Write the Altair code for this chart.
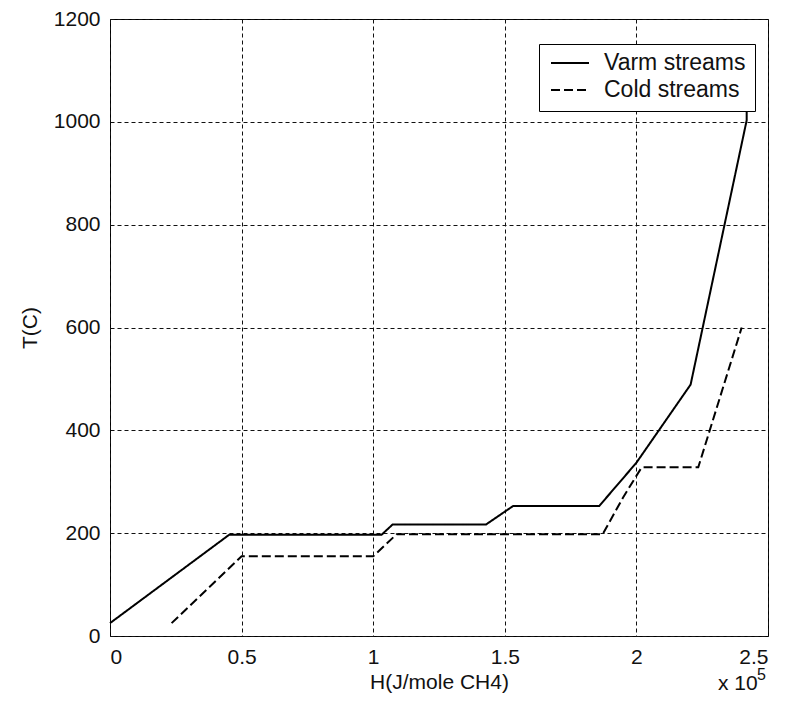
import altair as alt
import pandas as pd

# Composite curves (H in units of 1e5 J/mole CH4, T in C)
warm_H = [0.0, 0.453, 1.032, 1.074, 1.429, 1.532, 1.859, 2.0, 2.206, 2.419, 2.419]
warm_T = [25, 197, 197, 217, 217, 253, 253, 337, 489, 1003, 1050]

cold_H = [0.234, 0.5, 1.0, 1.089, 1.872, 1.95, 2.02, 2.235, 2.40]
cold_T = [25, 155, 155, 198, 198, 270, 328, 328, 600]

series_names = ["Varm streams", "Cold streams"]
x_ticks = [0, 0.5, 1, 1.5, 2, 2.5]
y_ticks = [0, 200, 400, 600, 800, 1000, 1200]

rows = []
for i, (h, t) in enumerate(zip(warm_H, warm_T)):
    rows.append({"H": h, "T": t, "series": series_names[0], "i": i})
for i, (h, t) in enumerate(zip(cold_H, cold_T)):
    rows.append({"H": h, "T": t, "series": series_names[1], "i": i})
df = pd.DataFrame(rows)

FONT = "Liberation Sans"
FS = 21

lines = alt.Chart(df).mark_line(color="black", strokeWidth=2).encode(
    x=alt.X("H:Q", scale=alt.Scale(domain=[0, 2.5], nice=False, zero=False),
            axis=alt.Axis(values=x_ticks, format="~g", title="H(J/mole CH4)")),
    y=alt.Y("T:Q", scale=alt.Scale(domain=[0, 1200], nice=False),
            axis=alt.Axis(values=y_ticks, format="d", title="T(C)")),
    strokeDash=alt.StrokeDash(
        "series:N",
        scale=alt.Scale(domain=series_names, range=[[1, 0], [9, 4]]),
        legend=alt.Legend(
            title=None, orient="none", legendX=429, legendY=25, zindex=1,
            strokeColor="black", fillColor="white", padding=9,
            symbolType="stroke", symbolSize=1444, symbolStrokeWidth=2,
            symbolStrokeColor="black", clipHeight=20, symbolOffset=2,
            labelFont=FONT, labelFontSize=23, labelColor="#111",
            labelOffset=14, rowPadding=4, labelLimit=300,
        ),
    ),
    detail="series:N",
    order=alt.Order("i:Q"),
)

exp1 = alt.Chart(pd.DataFrame({"t": ["x 10"]})).mark_text(
    font=FONT, fontSize=FS, align="left", baseline="alphabetic", color="#111"
).encode(x=alt.value(608), y=alt.value(671), text="t:N")

exp2 = alt.Chart(pd.DataFrame({"t": ["5"]})).mark_text(
    font=FONT, fontSize=16, align="left", baseline="alphabetic", color="#111"
).encode(x=alt.value(647), y=alt.value(661), text="t:N")

chart = alt.layer(lines, exp1, exp2).properties(
    width=658, height=617,
    autosize=alt.AutoSizeParams(type="none"),
    padding={"left": 102, "top": 11, "right": 14, "bottom": 60},
).configure_view(
    stroke="black", strokeWidth=1
).configure_axis(
    grid=True, gridColor="#111", gridDash=[4, 3], gridWidth=1,
    domain=False, ticks=False, tickSize=0,
    labelFont=FONT, labelFontSize=FS, labelColor="#111",
    titleFont=FONT, titleFontSize=FS, titleColor="#111", titleFontWeight="normal",
).configure_axisX(
    labelPadding=10, titlePadding=4,
).configure_axisY(
    labelPadding=10, titlePadding=13, labelBaseline="middle",
)

chart.save("out.html", embed_options={"renderer": "svg", "actions": False})
